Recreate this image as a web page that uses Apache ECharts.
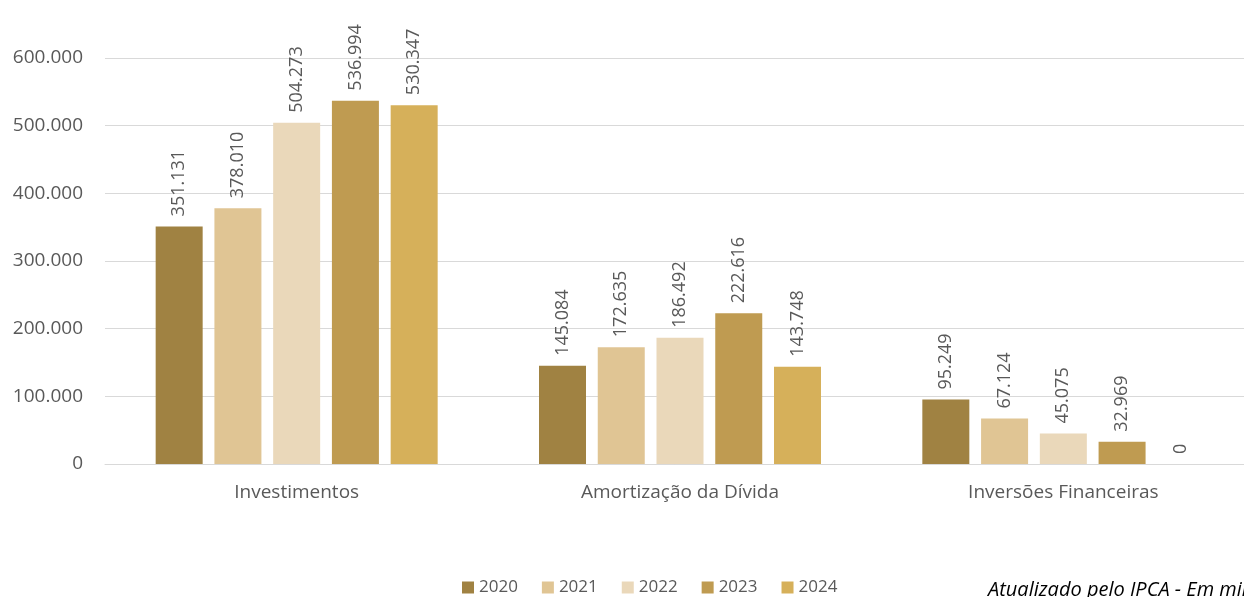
<!DOCTYPE html>
<html>
<head>
<meta charset="utf-8">
<script src="https://cdn.jsdelivr.net/npm/echarts@6/dist/echarts.min.js"></script>
<style>
  html, body { margin: 0; padding: 0; background: #fff; }
  #chart { width: 1244px; height: 597px; }
</style>
</head>
<body>
<div id="chart"></div>
<script>
  // categorias e valores (Atualizado pelo IPCA)
  var categories = ['Investimentos', 'Amortização da Dívida', 'Inversões Financeiras'];
  var years = ['2020', '2021', '2022', '2023', '2024'];
  var v2020 = [351131, 145084, 95249];
  var v2021 = [378010, 172635, 67124];
  var v2022 = [504273, 186492, 45075];
  var v2023 = [536994, 222616, 32969];
  var v2024 = [530347, 143748, 0];
  var colors = ['#A08242', '#E0C594', '#EAD8BA', '#BF9B51', '#D6B05A'];
  var yTicks = [0, 100000, 200000, 300000, 400000, 500000, 600000];

  var font = '"Open Sans", "Noto Sans", sans-serif';

  function fmt(v) {
    return String(v).replace(/\B(?=(\d{3})+(?!\d))/g, '.');
  }

  var allValues = [v2020, v2021, v2022, v2023, v2024];
  var series = years.map(function (y, i) {
    return {
      name: y,
      type: 'bar',
      data: allValues[i],
      barWidth: 47,
      barGap: '25%',
      itemStyle: { color: colors[i] },
      label: {
        show: true,
        position: 'top',
        rotate: 90,
        align: 'left',
        verticalAlign: 'middle',
        distance: 10,
        color: '#595959',
        fontFamily: font,
        fontSize: 18,
        formatter: function (p) { return fmt(p.value); }
      }
    };
  });

  var myChart = echarts.init(document.getElementById('chart'));
  myChart.setOption({
    animation: false,
    textStyle: { fontFamily: font },
    grid: { left: 105, width: 1150, top: 58, bottom: 133, outerBoundsMode: 'none' },
    legend: {
      top: 574,
      left: 457,
      itemWidth: 12,
      itemHeight: 12,
      itemGap: 24,
      icon: 'rect',
      textStyle: { color: '#595959', fontSize: 17, fontFamily: font },
      data: years
    },
    xAxis: {
      type: 'category',
      data: categories,
      axisTick: { show: false },
      axisLine: { lineStyle: { color: '#D9D9D9', width: 1 } },
      axisLabel: { color: '#595959', fontSize: 19, margin: 19, fontFamily: font }
    },
    yAxis: {
      type: 'value',
      min: yTicks[0],
      max: yTicks[yTicks.length - 1],
      interval: 100000,
      axisLine: { show: false },
      axisTick: { show: false },
      splitLine: { lineStyle: { color: '#D9D9D9', width: 1 } },
      axisLabel: {
        color: '#595959',
        fontSize: 19,
        margin: 22,
        fontFamily: font,
        formatter: function (v) { return v === 0 ? '0' : fmt(v / 1000) + '.000'; }
      }
    },
    graphic: [{
      type: 'text',
      left: 988,
      top: 580,
      style: {
        text: 'Atualizado pelo IPCA - Em milhares de R$',
        font: 'italic 20px ' + font,
        fill: '#000'
      }
    }],
    series: series
  });
</script>
</body>
</html>
